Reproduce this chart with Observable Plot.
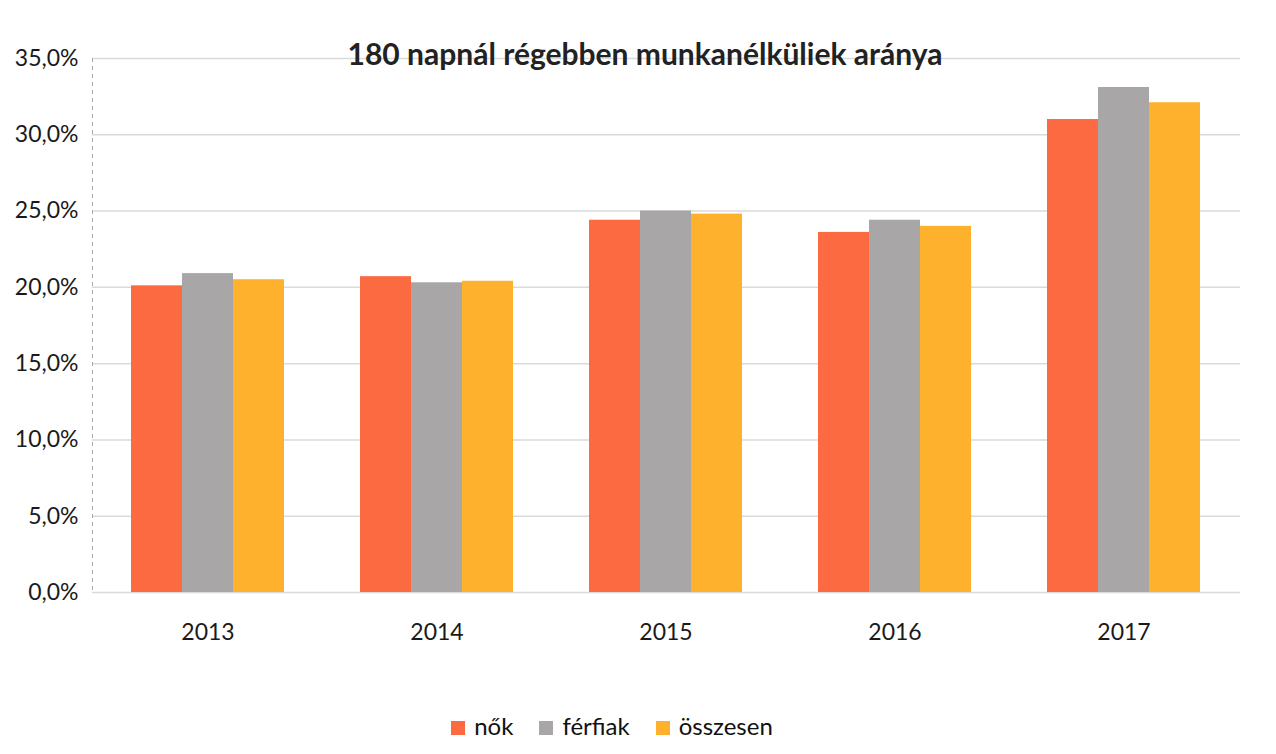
<!DOCTYPE html>
<html>
<head>
<meta charset="utf-8">
<script src="https://cdn.jsdelivr.net/npm/d3@7"></script>
<script src="https://cdn.jsdelivr.net/npm/@observablehq/plot@0.6"></script>
<style>
  html, body { margin: 0; padding: 0; background: #fff; }
  body { width: 1276px; height: 754px; position: relative; font-family: Lato, "Open Sans", sans-serif; overflow: hidden; }
  #title { position: absolute; top: 35px; left: 0; width: 1290px; text-align: center; font-size: 30px; font-weight: bold; color: #222; }
  .layer { position: absolute; top: 0; left: 0; }
  #legend { position: absolute; top: 711px; left: 0; width: 1224px; display: flex; justify-content: center; gap: 26px; font-size: 24px; color: #111; }
  .sw { display: inline-block; width: 14px; height: 14px; margin-right: 9px; vertical-align: 0px; }
</style>
</head>
<body>
<div id="bg" class="layer"></div>
<div id="fg" class="layer"></div>
<div id="title">180 napnál régebben munkanélküliek aránya</div>
<div id="legend"></div>
<script>
const years = ["2013", "2014", "2015", "2016", "2017"];
const seriesNames = ["nők", "férfiak", "összesen"];
const seriesColors = ["#FB6A40", "#A8A6A6", "#FDB12C"];
const nok = [0.201, 0.207, 0.244, 0.236, 0.310];
const ferfiak = [0.209, 0.203, 0.250, 0.244, 0.331];
const osszesen = [0.205, 0.204, 0.248, 0.240, 0.321];
const yTicks = [0, 0.05, 0.10, 0.15, 0.20, 0.25, 0.30, 0.35];

const seriesValues = [nok, ferfiak, osszesen];
const data = [];
years.forEach((y, i) => seriesNames.forEach((s, j) => data.push({year: y, series: s, value: seriesValues[j][i]})));

const fmt = d => (d * 100).toFixed(1).replace(".", ",") + "%";

const common = {
  width: 1276,
  height: 680,
  marginLeft: 92,
  marginRight: 36,
  marginTop: 58,
  marginBottom: 88,
  style: {fontFamily: "Lato, 'Open Sans', sans-serif", fontSize: "23px", color: "#1a1a1a", background: "transparent"}
};

// background: y axis, full-width gridlines, dashed left axis line
const bg = Plot.plot({
  ...common,
  x: {domain: [0, 1], axis: null},
  y: {domain: [0, 0.35], ticks: yTicks, tickFormat: fmt, label: null, tickSize: 0, tickPadding: 14},
  marks: [
    Plot.gridY(yTicks, {stroke: "#dadada", strokeOpacity: 1, strokeWidth: 1.5}),
    Plot.ruleX([0], {stroke: "#aaa", strokeDasharray: "4,4"})
  ]
});
document.getElementById("bg").appendChild(bg);

// foreground: grouped bars
const fg = Plot.plot({
  ...common,
  fx: {domain: years, paddingInner: 0.33, paddingOuter: 0.17, label: null, tickSize: 0, tickPadding: 31},
  x: {domain: seriesNames, axis: null, padding: 0},
  y: {domain: [0, 0.35], axis: null},
  color: {domain: seriesNames, range: seriesColors},
  marks: [
    Plot.barY(data, {fx: "year", x: "series", y: "value", fill: "series"})
  ]
});
document.getElementById("fg").appendChild(fg);

const legend = document.getElementById("legend");
seriesNames.forEach((s, i) => {
  const item = document.createElement("span");
  const sw = document.createElement("span");
  sw.className = "sw";
  sw.style.background = seriesColors[i];
  item.appendChild(sw);
  item.appendChild(document.createTextNode(s));
  legend.appendChild(item);
});
</script>
</body>
</html>
